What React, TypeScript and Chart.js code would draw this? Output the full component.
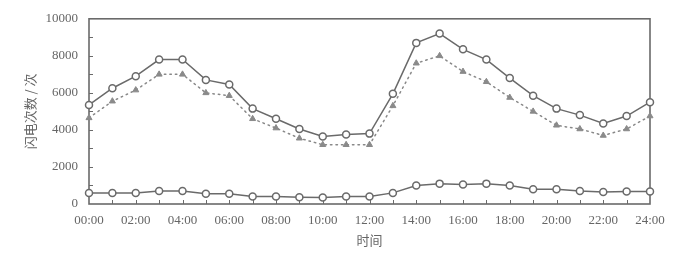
import React, { useEffect, useRef } from "react";
import { Chart, registerables } from "chart.js";

Chart.register(...registerables);

const hours = [
  "00:00", "01:00", "02:00", "03:00", "04:00", "05:00", "06:00", "07:00", "08:00",
  "09:00", "10:00", "11:00", "12:00", "13:00", "14:00", "15:00", "16:00", "17:00",
  "18:00", "19:00", "20:00", "21:00", "22:00", "23:00", "24:00",
];

const seriesTop = [
  5350, 6250, 6900, 7800, 7800, 6700, 6450, 5150, 4600, 4050, 3650, 3750, 3800,
  5950, 8700, 9200, 8350, 7800, 6800, 5850, 5150, 4800, 4350, 4750, 5500,
];

const seriesMid = [
  4650, 5550, 6150, 7000, 7000, 6000, 5850, 4600, 4100, 3550, 3200, 3200, 3200,
  5300, 7600, 8000, 7150, 6600, 5750, 5000, 4250, 4050, 3700, 4050, 4750,
];

const seriesLow = [
  600, 600, 600, 700, 700, 550, 550, 400, 400, 370, 350, 400, 400,
  600, 1000, 1100, 1050, 1100, 1000, 800, 800, 700, 650, 670, 670,
];

const yTitle = "闪电次数 / 次";
const xTitle = "时间";

const textColor = "#666666";
const lineColor = "#6a6a6a";
const font = { family: "'Liberation Serif', 'DejaVu Serif', serif", size: 13 };
const cjkFont = { family: "'Noto Sans CJK SC', 'Liberation Serif', serif", size: 13 };

const boxFrame = {
  id: "boxFrame",
  beforeDatasetsDraw(chart: any) {
    const ctx = chart.ctx;
    const area = chart.chartArea;
    const x = chart.scales.x;
    const y = chart.scales.y;
    ctx.save();
    ctx.strokeStyle = lineColor;
    ctx.lineWidth = 1.6;
    ctx.strokeRect(area.left, area.top, area.right - area.left, area.bottom - area.top);
    ctx.lineWidth = 1;
    ctx.beginPath();
    for (let i = 1; i < hours.length - 1; i++) {
      const px = Math.round(x.getPixelForValue(i)) + 0.5;
      ctx.moveTo(px, area.bottom);
      ctx.lineTo(px, area.bottom - 4);
    }
    for (let v = 1000; v < 10000; v += 1000) {
      const py = Math.round(y.getPixelForValue(v)) + 0.5;
      ctx.moveTo(area.left, py);
      ctx.lineTo(area.left + 4, py);
    }
    ctx.stroke();
    ctx.restore();
  },
};

export default function App() {
  const ref = useRef<HTMLCanvasElement>(null);
  useEffect(() => {
    document.body.style.margin = "0";
    const chart = new Chart(ref.current as HTMLCanvasElement, {
      type: "line",
      data: {
        labels: hours,
        datasets: [
          {
            data: seriesTop,
            borderColor: lineColor,
            borderWidth: 1.5,
            pointStyle: "circle",
            pointRadius: 3.5,
            pointBackgroundColor: "#ffffff",
            pointBorderColor: lineColor,
            pointBorderWidth: 1.5,
            tension: 0,
          },
          {
            data: seriesMid,
            borderColor: "#888888",
            borderWidth: 1.5,
            borderDash: [1.5, 4],
            borderCapStyle: "round",
            pointStyle: "triangle",
            pointRadius: 3.5,
            pointBackgroundColor: "#8a8a8a",
            pointBorderColor: "#8a8a8a",
            pointBorderWidth: 1,
            tension: 0,
          },
          {
            data: seriesLow,
            borderColor: lineColor,
            borderWidth: 1.5,
            pointStyle: "circle",
            pointRadius: 3.5,
            pointBackgroundColor: "#ffffff",
            pointBorderColor: lineColor,
            pointBorderWidth: 1.5,
            tension: 0,
          },
        ],
      },
      options: {
        responsive: false,
        animation: false,
        clip: false,
        layout: { padding: { left: 18, right: 49, top: 14, bottom: 5 } },
        plugins: { legend: { display: false }, tooltip: { enabled: false } },
        scales: {
          x: {
            type: "category",
            offset: false,
            grid: { display: false, drawTicks: false },
            border: { display: false },
            afterFit: (s: any) => { s.height = 48; },
            ticks: {
              autoSkip: false,
              maxRotation: 0,
              padding: 9,
              color: textColor,
              font,
              callback: (_v: any, i: number) => (i % 2 === 0 ? hours[i] : ""),
            },
            title: { display: true, text: xTitle, color: textColor, font: cjkFont },
          },
          y: {
            min: 0,
            max: 10000,
            grid: { display: false, drawTicks: false },
            border: { display: false },
            afterFit: (s: any) => { s.width = 71; },
            ticks: {
              stepSize: 2000,
              padding: 11,
              color: textColor,
              font,
              callback: (v: any) => String(v),
            },
            title: { display: true, text: yTitle, color: textColor, font: cjkFont },
          },
        },
      },
      plugins: [boxFrame],
    });
    return () => chart.destroy();
  }, []);
  return (
    <div style={{ width: 699, height: 257, background: "#fff" }}>
      <canvas ref={ref} width={699} height={257} />
    </div>
  );
}
